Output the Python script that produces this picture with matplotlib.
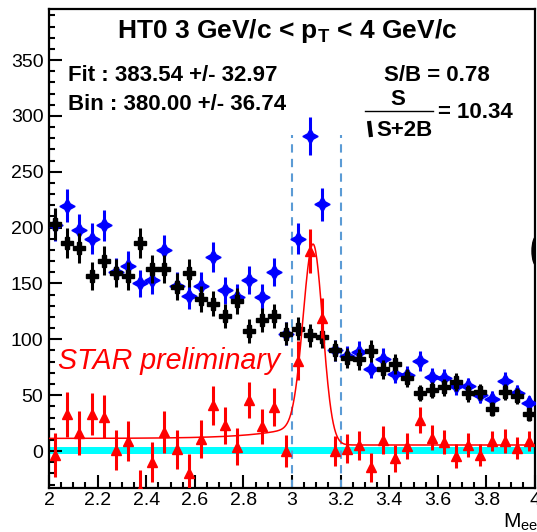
import numpy as np
import matplotlib
matplotlib.use("Agg")
import matplotlib.pyplot as plt
from matplotlib.patches import Ellipse, Rectangle
from matplotlib.lines import Line2D
from matplotlib.ticker import MultipleLocator, FuncFormatter
from math import erfc

plt.rcParams['font.family'] = ['Liberation Sans', 'DejaVu Sans']
plt.rcParams['mathtext.fontset'] = 'custom'
plt.rcParams['mathtext.rm'] = 'Liberation Sans:bold'
plt.rcParams['mathtext.it'] = 'Liberation Sans:bold'
plt.rcParams['mathtext.bf'] = 'Liberation Sans:bold'

# ---------------- data ----------------
mass = [2.025, 2.075, 2.125, 2.175, 2.225, 2.275, 2.325, 2.375, 2.425, 2.475,
        2.525, 2.575, 2.625, 2.675, 2.725, 2.775, 2.825, 2.875, 2.925, 2.975,
        3.025, 3.075, 3.125, 3.175, 3.225, 3.275, 3.325, 3.375, 3.425, 3.475,
        3.525, 3.575, 3.625, 3.675, 3.725, 3.775, 3.825, 3.875, 3.925, 3.975]

like_sign = [203, 186, 181.5, 157, 170.5, 159, 157, 186, 163, 163,
             147, 159, 136, 132, 121, 134, 107.5, 117, 121, 105,
             109.5, 103.6, 102.5, 90, 83, 82, 89.6, 73, 77.7, 65,
             52, 54.5, 57, 62, 51.5, 53, 38, 53, 49, 33]
like_sign_err = [14.2, 13.6, 13.5, 12.5, 13.1, 12.6, 12.5, 13.6, 12.8, 12.8,
                 12.1, 12.6, 11.7, 11.5, 11.0, 11.6, 10.4, 10.8, 11.0, 10.2,
                 10.5, 10.2, 10.1, 9.5, 9.1, 9.1, 9.5, 8.5, 8.8, 8.1,
                 7.2, 7.4, 7.5, 7.9, 7.2, 7.3, 6.2, 7.3, 7.0, 5.7]

unlike_sign = [202, 219.6, 198, 190, 202, 160, 166, 150, 153, 180,
               148, 139, 148, 173.5, 144, 138, 153, 138, 160, 105,
               190, 282, 221, 90, 85, 88.7, 73.8, 82.7, 69, 68,
               80.6, 66.4, 65, 58, 58, 50, 47, 62.8, 52, 43]
unlike_sign_err = [14.2, 14.8, 14.1, 13.8, 14.2, 12.6, 12.9, 12.2, 12.4, 13.4,
                   12.2, 11.8, 12.2, 13.2, 12.0, 11.7, 12.4, 11.7, 12.6, 10.2,
                   13.8, 16.8, 14.9, 9.5, 9.2, 9.4, 8.6, 9.1, 8.3, 8.2,
                   9.0, 8.1, 8.1, 7.6, 7.6, 7.1, 6.9, 7.9, 7.2, 6.6]

signal = [-3.6, 33, 16, 33, 30.6, 1, 9, -35, -9.5, 17,
          1.5, -20, 11, 41, 23, 4, 46, 22, 39.5, 0,
          81, 179, 119, 0, 2, 5, -14.6, 10, -6.5, 4.5,
          27.7, 12, 8, -4.5, 5.4, -3.6, 9, 9, 3, 9]
signal_err = [20.1, 20.1, 19.5, 18.6, 19.3, 17.9, 18.0, 18.3, 17.8, 18.5,
              17.2, 17.3, 16.9, 17.5, 16.3, 16.5, 16.1, 16.0, 16.8, 14.5,
              17.3, 19.6, 18.0, 13.4, 13.0, 13.1, 12.8, 12.5, 12.1, 11.5,
              11.5, 11.0, 11.0, 11.0, 10.5, 10.1, 9.2, 10.8, 10.0, 8.7]

# fit parameters
fit_mu = 3.088
fit_sigma_left = 0.041
fit_sigma_right = 0.039
fit_amp = 169.0
fit_bg = 5.4
tail_const = 5.9
tail_amp = 15.6
tail_lambda = 0.17

mass_window = [3.0, 3.2]

x_ticks = [2.0, 2.2, 2.4, 2.6, 2.8, 3.0, 3.2, 3.4, 3.6, 3.8, 4.0]
y_ticks = [0, 50, 100, 150, 200, 250, 300, 350]

# ---------------- figure ----------------
W, H = 537, 532
fig = plt.figure(figsize=(W / 100, H / 100), dpi=100)
ax = fig.add_axes([49 / W, (H - 488) / H, (535 - 49) / W, (488 - 9) / H])


def fx(px):
    return px / W


def fy(py):
    return 1 - py / H


ax.set_xlim(2.0, 4.0)
ax.set_ylim(-33.1, 395.7)

# zero band
ax.axhspan(-3.0, 3.3, color='#00FFFF', lw=0, zorder=1)

# mass window lines
for xv in mass_window:
    ax.plot([xv, xv], [-33.1, 283], color='#5B9BD5', lw=1.5,
            dashes=(4, 3), zorder=2)

# unlike sign (blue)
ax.errorbar(mass, unlike_sign, yerr=unlike_sign_err, fmt='none',
            ecolor='#0000FF', elinewidth=2.2, capsize=0, zorder=3)
ax.plot(mass, unlike_sign, ls='none', marker=(4, 1, 0), ms=11,
        color='#0000FF', mec='#0000FF', zorder=3)

# like sign (black)
ax.errorbar(mass, like_sign, yerr=like_sign_err, fmt='none',
            ecolor='black', elinewidth=2.2, capsize=0, zorder=4)
ax.plot(mass, like_sign, ls='none', marker='P', ms=9,
        color='black', mec='black', zorder=4)

# fit curve
xf = np.linspace(2.0, 4.0, 801)
dx = xf - fit_mu
gauss = np.where(dx < 0,
                 fit_amp * np.exp(-dx ** 2 / (2 * fit_sigma_left ** 2)),
                 fit_amp * np.exp(-dx ** 2 / (2 * fit_sigma_right ** 2)))
step = np.array([0.5 * erfc(d / (np.sqrt(2) * fit_sigma_left)) for d in dx])
tail = (tail_const + tail_amp * np.exp(dx / tail_lambda)) * step
ax.plot(xf, fit_bg + gauss + tail, color='#FF0000', lw=1.1, zorder=5)

# signal (red)
ax.errorbar(mass, signal, yerr=signal_err, fmt='none',
            ecolor='#FF0000', elinewidth=2.2, capsize=0, zorder=6)
ax.plot(mass, signal, ls='none', marker='^', ms=7,
        color='#FF0000', mec='#FF0000', zorder=6)

# axes styling
for s in ax.spines.values():
    s.set_linewidth(1.6)
ax.set_xticks(x_ticks)
ax.set_yticks(y_ticks)
ax.xaxis.set_major_formatter(FuncFormatter(lambda v, p: '%g' % v))
ax.xaxis.set_minor_locator(MultipleLocator(0.05))
ax.yaxis.set_minor_locator(MultipleLocator(10))
ax.tick_params(axis='both', which='both', direction='in', top=False,
               right=False, width=1.5, labelsize=14)
ax.tick_params(axis='both', which='major', length=9.5)
ax.tick_params(axis='both', which='minor', length=4.5)
ax.tick_params(axis='y', which='major', pad=4)
ax.tick_params(axis='x', which='major', pad=3)

# texts
fig.text(fx(287), fy(38), r'HT0 3 GeV/c < p$_{\mathrm{T}}$ < 4 GeV/c',
         ha='center', va='baseline', fontsize=19, fontweight='bold')
fig.text(fx(68), fy(81), 'Fit : 383.54 +/- 32.97', ha='left',
         va='baseline', fontsize=16, fontweight='bold')
fig.text(fx(68), fy(110), 'Bin : 380.00 +/- 36.74', ha='left',
         va='baseline', fontsize=16, fontweight='bold')
fig.text(fx(436.5), fy(81), 'S/B = 0.78', ha='center',
         va='baseline', fontsize=16, fontweight='bold')
fig.text(fx(398), fy(105), 'S', ha='center', va='baseline',
         fontsize=16, fontweight='bold')
fig.text(fx(404), fy(136), 'S+2B', ha='center', va='baseline',
         fontsize=16, fontweight='bold')
fig.add_artist(Line2D([fx(365), fx(433)], [fy(111), fy(111)],
                      transform=fig.transFigure, color='black', lw=1.0))
fig.add_artist(Line2D([fx(369), fx(371)], [fy(121), fy(137)],
                      transform=fig.transFigure, color='black', lw=3.0,
                      solid_capstyle='butt'))
fig.text(fx(438), fy(118), '= 10.34', ha='left', va='baseline',
         fontsize=16, fontweight='bold')

fig.text(fx(58), fy(369), 'STAR preliminary', ha='left', va='baseline',
         fontsize=20.6, style='italic', color='#FF0000')

fig.text(fx(503), fy(528), r'M$_{\mathregular{ee}}$', ha='left',
         va='baseline', fontsize=15)

# partial black shape at the right edge
clip = Rectangle((0, 0), fx(535), 1, transform=fig.transFigure)
ell = Ellipse((fx(537), fy(251)), 10 / W, 30 / H,
              transform=fig.transFigure, color='black', zorder=10)
fig.add_artist(ell)
ell.set_clip_path(clip)

fig.savefig('out.png', dpi=100)
